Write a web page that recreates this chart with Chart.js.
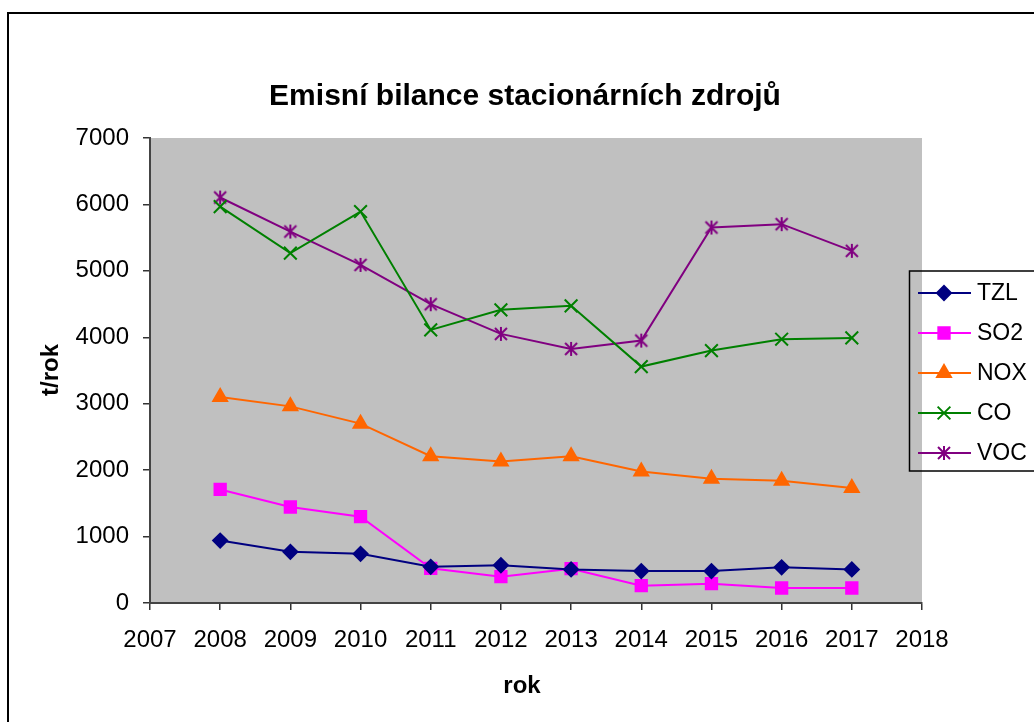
<!DOCTYPE html>
<html>
<head>
<meta charset="utf-8">
<script src="https://cdn.jsdelivr.net/npm/chart.js@4.4.1/dist/chart.umd.min.js"></script>
<style>
  html, body { margin: 0; padding: 0; background: #fff; overflow: hidden; }
  canvas { display: block; }
</style>
</head>
<body>
<canvas id="c" width="1034" height="722"></canvas>
<script>
// Emission balance of stationary sources, t/year
const years = [2008, 2009, 2010, 2011, 2012, 2013, 2014, 2015, 2016, 2017];
const tzl = [940, 770, 740, 545, 568, 505, 480, 480, 537, 505];
const so2 = [1710, 1445, 1300, 522, 396, 517, 261, 291, 226, 226];
const nox = [3100, 2960, 2700, 2210, 2130, 2210, 1980, 1870, 1840, 1730];
const co  = [5968, 5266, 5893, 4111, 4413, 4473, 3559, 3800, 3971, 3991];
const voc = [6104, 5592, 5090, 4498, 4051, 3825, 3950, 5652, 5703, 5301];
const seriesNames = ['TZL', 'SO2', 'NOX', 'CO', 'VOC'];
const yTicks = [0, 1000, 2000, 3000, 4000, 5000, 6000, 7000];
const xTicks = [2007, 2008, 2009, 2010, 2011, 2012, 2013, 2014, 2015, 2016, 2017, 2018];

const FONT = "'Liberation Sans', Arial, Helvetica, sans-serif";

// six-armed asterisk marker (X plus vertical stroke)
function asterisk(color) {
  const c = document.createElement('canvas');
  c.width = 16; c.height = 16;
  const g = c.getContext('2d');
  g.strokeStyle = color;
  g.lineWidth = 2;
  g.beginPath();
  g.moveTo(2, 2); g.lineTo(14, 14);
  g.moveTo(14, 2); g.lineTo(2, 14);
  g.moveTo(8, 1); g.lineTo(8, 15);
  g.stroke();
  return c;
}

const pts = arr => years.map((y, i) => ({ x: y, y: arr[i] }));

const styles = [
  { color: '#000080', pointStyle: 'rectRot', radius: 7 },
  { color: '#FF00FF', pointStyle: 'rect', radius: 8 },
  { color: '#FF6600', pointStyle: 'triangle', radius: 8 },
  { color: '#008000', pointStyle: 'crossRot', radius: 9 },
  { color: '#800080', pointStyle: asterisk('#800080'), radius: 8 }
];
const values = [tzl, so2, nox, co, voc];

const datasets = seriesNames.map((name, i) => ({
  label: name,
  data: pts(values[i]),
  borderColor: styles[i].color,
  backgroundColor: styles[i].color,
  pointBackgroundColor: styles[i].color,
  pointBorderColor: styles[i].color,
  pointBorderWidth: 2,
  pointStyle: styles[i].pointStyle,
  pointRadius: styles[i].radius,
  pointHoverRadius: styles[i].radius,
  borderWidth: 2,
  tension: 0,
  fill: false
}));

const decor = {
  id: 'decor',
  beforeDraw(chart) {
    const { ctx, chartArea: a } = chart;
    ctx.save();
    ctx.fillStyle = '#fff';
    ctx.fillRect(0, 0, chart.width, chart.height);
    ctx.fillStyle = '#C0C0C0';
    ctx.fillRect(a.left, a.top, a.right - a.left, a.bottom - a.top);
    ctx.restore();
  },
  afterDraw(chart) {
    const { ctx } = chart;
    ctx.save();
    // outer frame
    ctx.strokeStyle = '#000';
    ctx.lineWidth = 2;
    ctx.strokeRect(8, 13, 1100, 800);

    // chart title
    ctx.fillStyle = '#000';
    ctx.textAlign = 'center';
    ctx.textBaseline = 'middle';
    ctx.font = 'bold 30px ' + FONT;
    ctx.fillText('Emisní bilance stacionárních zdrojů', 525, 97);

    // axis titles
    ctx.font = 'bold 24px ' + FONT;
    ctx.fillText('rok', 522, 686);
    ctx.save();
    ctx.translate(51, 370);
    ctx.rotate(-Math.PI / 2);
    ctx.fillText('t/rok', 0, 0);
    ctx.restore();

    // legend box
    ctx.lineWidth = 1.5;
    ctx.strokeStyle = '#000';
    ctx.strokeRect(909.5, 271, 300, 200);
    ctx.textAlign = 'left';
    ctx.font = '23px ' + FONT;
    chart.data.datasets.forEach((ds, i) => {
      const y = 293 + i * 40;
      ctx.strokeStyle = ds.borderColor;
      ctx.fillStyle = ds.backgroundColor;
      ctx.lineWidth = 2;
      ctx.beginPath();
      ctx.moveTo(918, y);
      ctx.lineTo(971, y);
      ctx.stroke();
      Chart.helpers.drawPoint(ctx, {
        pointStyle: ds.pointStyle,
        radius: ds.pointRadius,
        rotation: 0,
        borderWidth: 2
      }, 944, y);
      ctx.fillStyle = '#000';
      ctx.fillText(ds.label, 977, y + 1);
    });
    ctx.restore();
  }
};

new Chart(document.getElementById('c'), {
  type: 'line',
  data: { datasets },
  options: {
    responsive: false,
    animation: false,
    devicePixelRatio: 1,
    layout: { padding: { left: 0, top: 138, right: 112, bottom: 0 } },
    plugins: {
      legend: { display: false },
      title: { display: false },
      tooltip: { enabled: false }
    },
    scales: {
      x: {
        type: 'linear',
        min: xTicks[0],
        max: xTicks[xTicks.length - 1],
        afterFit(scale) { scale.height = 119; },
        afterBuildTicks(scale) { scale.ticks = xTicks.map(v => ({ value: v })); },
        ticks: {
          color: '#000',
          font: { family: FONT, size: 24 },
          padding: 16,
          maxRotation: 0,
          autoSkip: false,
          callback: v => String(v)
        },
        grid: { display: true, drawOnChartArea: false, drawTicks: true, tickLength: 7, color: '#333', lineWidth: 1.5 },
        border: { display: true, color: '#444', width: 2 }
      },
      y: {
        type: 'linear',
        min: yTicks[0],
        max: yTicks[yTicks.length - 1],
        afterFit(scale) { scale.width = 150; },
        afterBuildTicks(scale) { scale.ticks = yTicks.map(v => ({ value: v })); },
        ticks: {
          color: '#000',
          font: { family: FONT, size: 24 },
          padding: 14,
          callback: v => String(v)
        },
        grid: { display: true, drawOnChartArea: false, drawTicks: true, tickLength: 7, color: '#333', lineWidth: 1.5 },
        border: { display: true, color: '#444', width: 2 }
      }
    }
  },
  plugins: [decor]
});
</script>
</body>
</html>
